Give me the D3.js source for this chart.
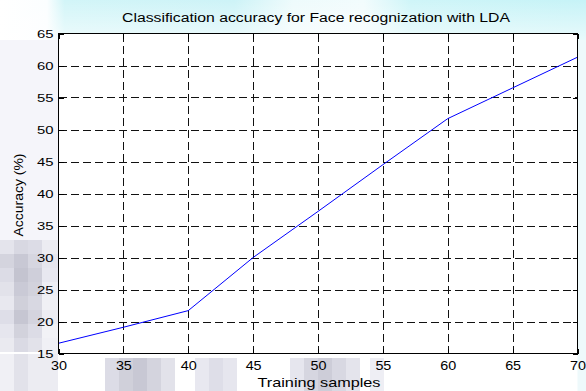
<!DOCTYPE html>
<html><head><meta charset="utf-8">
<script src="https://cdn.jsdelivr.net/npm/d3@7"></script>
<style>
body{margin:0;background:#fff;}
text{font-family:"Liberation Sans",Arial,Helvetica,sans-serif;fill:#000;}
</style>
</head><body>
<svg id="c" width="586" height="391"></svg>
<script>
// ---- data ----
const samples  = [30, 35, 40, 45, 50, 55, 60, 65, 70];
const accuracy = [16.6, 19.1, 21.7, 30.0, 37.2, 44.5, 51.7, 56.5, 61.3];
const xTicks = [30, 35, 40, 45, 50, 55, 60, 65, 70];
const yTicks = [15, 20, 25, 30, 35, 40, 45, 50, 55, 60, 65];
const titleText = "Classification accuracy for Face recognization with LDA";
const xLabelText = "Training samples";
const yLabelText = "Accuracy (%)";

const W = 586, H = 391;
const L = 58.5, R = 577.5, T = 33.5, B = 353.5;
const svg = d3.select("#c");

// ---- decorative background ----
const defs = svg.append("defs");
const g1 = defs.append("linearGradient").attr("id","topg").attr("x1","0").attr("x2","1").attr("y1","0").attr("y2","0");
[[0,"#ffffff"],[0.08,"#fbfeff"],[0.11,"#d2f5f8"],[0.4,"#cdf3f7"],[0.5,"#eefbfc"],[0.62,"#f2fcfd"],[0.7,"#cff5f8"],[1,"#c6f3f7"]]
  .forEach(s=>g1.append("stop").attr("offset",s[0]).attr("stop-color",s[1]));
const g2 = defs.append("linearGradient").attr("id","fade").attr("x1","0").attr("x2","0").attr("y1","0").attr("y2","1");
g2.append("stop").attr("offset",0).attr("stop-color","#fff").attr("stop-opacity",0);
g2.append("stop").attr("offset",1).attr("stop-color","#fff").attr("stop-opacity",0.6);
svg.append("rect").attr("x",0).attr("y",0).attr("width",W).attr("height",40).attr("fill","url(#topg)");
svg.append("rect").attr("x",0).attr("y",0).attr("width",W).attr("height",40).attr("fill","url(#fade)");
svg.append("rect").attr("x",R).attr("y",40).attr("width",W-R).attr("height",H-40).attr("fill","#eef9fb");
svg.append("rect").attr("x",0).attr("y",40).attr("width",L).attr("height",200).attr("fill","#f5f5fa");
const blocks = [
  [0,240,14,14,"#e4e4ec"],[14,240,14,14,"#d8d8e2"],[28,240,14,14,"#dcdce6"],[42,240,17,14,"#ececf2"],
  [0,254,14,14,"#d4d4de"],[14,254,14,14,"#c8c8d4"],[28,254,14,14,"#d6d6e0"],[42,254,17,14,"#e6e6ee"],
  [0,268,14,14,"#dcdce6"],[14,268,14,14,"#c4c4d0"],[28,268,14,14,"#cfcfda"],[42,268,17,14,"#e8e8f0"],
  [0,282,14,14,"#e2e2ea"],[14,282,14,14,"#cacad6"],[28,282,14,14,"#d2d2dc"],[42,282,17,14,"#eeeef4"],
  [0,296,14,14,"#e8e8ef"],[14,296,14,14,"#d0d0da"],[28,296,14,14,"#d8d8e2"],[42,296,17,14,"#f0f0f5"],
  [0,310,14,14,"#dedee8"],[14,310,14,14,"#c6c6d2"],[28,310,14,14,"#d4d4de"],[42,310,17,14,"#ececf2"],
  [0,324,14,14,"#e6e6ee"],[14,324,14,14,"#d2d2dc"],[28,324,14,14,"#dcdce6"],[42,324,17,14,"#f2f2f6"],
  [0,338,14,14,"#eaeaf0"],[14,338,14,14,"#dadae4"],[28,338,14,14,"#e2e2ea"],[42,338,17,16,"#f0f0f5"],
  [0,354,14,37,"#f0f0f5"],[14,354,14,37,"#e2e2ea"],[28,354,30,37,"#ececf2"],
  [105,358,14,33,"#dcdce6"],[119,358,14,33,"#d0d0da"],[133,358,14,33,"#c8c8d4"],[147,358,14,33,"#d4d4de"],[161,358,14,33,"#e2e2ea"],
  [195,358,14,33,"#e8e8f0"],[209,358,14,33,"#dedee8"],[223,358,14,33,"#e6e6ee"],
  [290,358,14,33,"#e6e6ee"],[304,358,14,33,"#d6d6e0"],[318,358,14,33,"#cdcdd8"],[332,358,14,33,"#d8d8e2"],[346,358,14,33,"#e4e4ec"],
  [370,358,14,33,"#eeeef4"]
];
svg.append("g").selectAll("rect").data(blocks).join("rect")
  .attr("x",d=>d[0]).attr("y",d=>d[1]).attr("width",d=>d[2]).attr("height",d=>d[3]).attr("fill",d=>d[4]);

// ---- scales ----
const x = d3.scaleLinear().domain([30,70]).range([L,R]);
const y = d3.scaleLinear().domain([15,65]).range([B,T]);

// plot area
svg.append("rect").attr("x",L).attr("y",T).attr("width",R-L).attr("height",B-T).attr("fill","#fff");

// grid
const grid = svg.append("g").attr("stroke","#111").attr("stroke-width",1).attr("stroke-dasharray","8,4").attr("shape-rendering","crispEdges");
grid.selectAll("line.v").data(xTicks.slice(1,-1)).join("line").attr("class","v")
  .attr("x1",d=>Math.round(x(d))+0.5).attr("x2",d=>Math.round(x(d))+0.5).attr("y1",B).attr("y2",T);
grid.selectAll("line.h").data(yTicks.slice(1,-1)).join("line").attr("class","h")
  .attr("y1",d=>Math.round(y(d))+0.5).attr("y2",d=>Math.round(y(d))+0.5).attr("x1",L).attr("x2",R);

// line
const line = d3.line().x((d,i)=>x(samples[i])).y(d=>y(d));
svg.append("path").datum(accuracy).attr("d",line).attr("fill","none").attr("stroke","#0000ff").attr("stroke-width",1);

// axes (inward ticks)
const tl = 5;
const axB = svg.append("g").attr("transform",`translate(0,${B})`).call(d3.axisBottom(x).tickValues(xTicks).tickSize(-tl).tickPadding(0).tickSizeOuter(0));
const axT = svg.append("g").attr("transform",`translate(0,${T})`).call(d3.axisTop(x).tickValues(xTicks).tickSize(-tl).tickFormat("").tickSizeOuter(0));
const axL = svg.append("g").attr("transform",`translate(${L},0)`).call(d3.axisLeft(y).tickValues(yTicks).tickSize(-tl).tickPadding(0).tickSizeOuter(0));
const axR = svg.append("g").attr("transform",`translate(${R},0)`).call(d3.axisRight(y).tickValues(yTicks).tickSize(-tl).tickFormat("").tickSizeOuter(0));
[axB,axT,axL,axR].forEach(a=>{
  a.select(".domain").remove();
  a.selectAll("line").attr("stroke","#000").attr("shape-rendering","crispEdges");
});
axB.selectAll("text").attr("y",16.5).attr("dy",0).attr("font-size",12.5)
  .attr("textLength",16).attr("lengthAdjust","spacingAndGlyphs").attr("font-family","Liberation Sans, Arial, sans-serif");
axL.selectAll("text").attr("x",-5).attr("dy","0.36em").attr("font-size",11.5)
  .attr("textLength",16.5).attr("lengthAdjust","spacingAndGlyphs").attr("font-family","Liberation Sans, Arial, sans-serif");

// box
svg.append("rect").attr("x",L).attr("y",T).attr("width",R-L).attr("height",B-T)
  .attr("fill","none").attr("stroke","#000").attr("stroke-width",1).attr("shape-rendering","crispEdges");

// title and labels
svg.append("text").attr("x",316).attr("y",22).attr("text-anchor","middle").attr("font-size",12)
  .attr("textLength",388).attr("lengthAdjust","spacingAndGlyphs").text(titleText);
svg.append("text").attr("x",319).attr("y",387).attr("text-anchor","middle").attr("font-size",13)
  .attr("textLength",123).attr("lengthAdjust","spacingAndGlyphs").text(xLabelText);
svg.append("text").attr("transform","translate(22.5,195) rotate(-90)").attr("text-anchor","middle").attr("font-size",12.5)
  .attr("textLength",83).attr("lengthAdjust","spacingAndGlyphs").text(yLabelText);
</script>
</body></html>
